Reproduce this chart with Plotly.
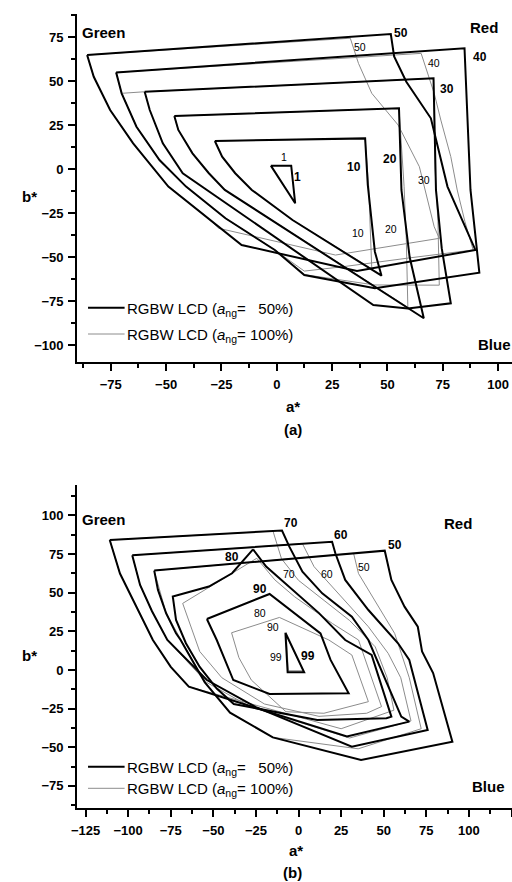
import plotly.graph_objects as go

# ================= panel (a) : a_ng = 50 % (bold) =================
a_A1 = [-2.7, 6.5, 8.3, -2.7]
b_A1 = [1.9, 1.9, -19.5, 1.9]
a_A10 = [-28, 39.9, 41.1, 44.3, 47.3, 7.1, -11.3, -18.8, -24.7, -28]
b_A10 = [15.9, 17.4, -9, -47, -60.6, -29, -11.9, -2.4, 7, 15.9]
a_A20 = [-46.3, 55.2, 56.3, 60, 66.4, -23.5, -30.7, -38.1, -44.5, -46.3]
b_A20 = [30.1, 34.5, -11.9, -50, -84.8, -11.9, -2.4, 8.9, 22.2, 30.1]
a_A30 = [-59.7, 70.8, 71.9, 74.5, 78.6, 59.2, 43.6, -33.5, -42.5, -51.5, -57.4, -59.7]
b_A30 = [43.9, 51.5, -11.9, -45, -76.3, -79.2, -77.3, -10, -2.4, 14.6, 33.5, 43.9]
a_A40 = [-72.6, 84.8, 87.5, 91.5, 44.3, 12.4, -0.9, -23.2, -41, -53, -63.4, -70.1, -72.6]
b_A40 = [54.9, 68.6, -11.9, -58.9, -67.8, -60.2, -46, -28, -10, 5.1, 24, 43, 54.9]
a_A50 = [-85.7, 51.5, 53, 58.5, 69.6, 77.1, 89.7, 36.2, -15.9, -33.6, -49, -64.9, -75.3, -82.7, -85.7]
b_A50 = [64.8, 76.7, 64, 49.6, 28.8, -10, -46, -58, -43.2, -25.2, -10, 14.6, 33.5, 52.4, 64.8]

# ================= panel (a) : a_ng = 100 % (thin) =================
a_T10 = [-28, 39.9, 41.5, 42.5, 42.9, 7.1, -11.3, -18.8, -24.7, -28]
b_T10 = [15.9, 17.4, -10, -40, -56.8, -29, -11.9, -2.4, 7, 15.9]
a_T20 = [-46.3, 55.2, 57.5, 58.5, 59.2, -23.5, -30.7, -38.1, -44.5, -46.3]
b_T20 = [30.1, 34.5, -10, -40, -78.6, -11.9, -2.4, 8.9, 22.2, 30.1]
a_T30 = [-59.7, 70.8, 71.5, 72.8, 73.4, 44.3, 12.4, -0.9, -23.2, -41, -53, -63.4, -70.1, -59.7]
b_T30 = [43.9, 51.5, 0, -30, -66, -65.9, -60, -46, -28, -10, 5.1, 24, 43, 43.9]
a_T40 = [-72.6, 65.2, 71.1, 74.1, 78.6, 81.5, 85, 88.7, 60, 30, 12.4, -0.9, -23.2, -41, -53, -63.4, -70.1, -72.6]
b_T40 = [54.9, 65.7, 43, 27.8, 7, -11.9, -30, -46, -50.5, -55.5, -58, -46, -28, -10, 5.1, 24, 43, 54.9]
a_T50 = [-85.7, 33.2, 36.9, 42.9, 54.8, 64.4, 71.1, 73.4, 26.5, 7.1, -26.2, -33.6, -49, -64.9, -75.3, -82.7, -85.7]
b_T50 = [64.8, 74.3, 60, 43, 25, 1.3, -32.8, -39.4, -48.9, -43.2, -33.7, -25.2, -10, 14.6, 33.5, 52.4, 64.8]

# ================= panel (b) : a_ng = 50 % (bold) =================
a_B99 = [-7.7, -6.4, 3.3, -7.7]
b_B99 = [24.1, -1.5, -1.5, 24.1]
a_B90 = [-53.8, -17, 12.9, 18.8, 29.4, -17, -38.3, -48, -53.8]
b_B90 = [33, 49.2, 23.7, 6.5, -15.1, -15.5, -6.5, 19.4, 33]
a_B80 = [-26.7, -39, -52.6, -73.8, -71.9, -66.1, -58, -48, -38, 11, 51.6, 54.5, 42.9, 27.4, 12, -5.4, -19, -26.7]
b_B80 = [78.1, 62.6, 54, 47.6, 32.4, 17.3, 2, -12, -22, -32.4, -31.2, -30.2, 9.7, 19.4, 36.8, 54, 66.9, 78.1]
a_B70 = [-110.8, -9.7, -5.4, 2.3, 13.9, 31.3, 41, 60.3, 65, 28.4, -64.4, -75, -85.5, -95.1, -104.8, -110.8]
b_B70 = [84.1, 90.2, 79.8, 63.6, 49.6, 34.5, 19.4, -30.2, -33.4, -43, -10.8, 2, 19.4, 40.8, 62.4, 84.1]
a_B60 = [-97.6, 19.7, 21.6, 27.4, 41, 58.4, 65, 75.8, 31.3, -25, -53.8, -77, -86, -93, -97.6]
b_B60 = [74.2, 83, 75.5, 58.3, 38.8, 17.3, 6.5, -38.8, -49.6, -24, -6.5, 19.4, 38, 55, 74.2]
a_B50 = [-84.7, 50.6, 54.5, 62.2, 70, 72.5, 79, 90.3, 36.7, -15.1, -40.2, -55, -69.2, -71.9, -77.7, -82.5, -84.7]
b_B50 = [64.3, 77.2, 58.3, 41, 28, 12, -2, -46.4, -58.3, -43.6, -27.6, -8, 19.4, 23.7, 36.7, 51.8, 64.3]

# ================= panel (b) : a_ng = 100 % (thin) =================
a_U99 = [-7.2, -6.0, 2.8, -7.2]
b_U99 = [22.5, -0.5, -0.5, 22.5]
a_U90 = [-39.3, -11.2, 17.8, 31.3, 41, 14.9, -7.4, -27.7, -35, -39.3]
b_U90 = [24.1, 34, 19.4, 9.7, -20.5, -28, -27, -6.5, 8, 24.1]
a_U80 = [-24.5, -13.9, -2.3, 20, 35.2, 48.7, 40, 12, -20, -45, -58, -64, -68, -24.5]
b_U80 = [72.3, 58.3, 47.4, 30, 19.4, -23.7, -28, -30, -22, -5, 12, 30, 43.1, 72.3]
a_U70 = [-110.8, -15, -10, 0, 15, 30, 45, 52, 56, 25, -64.4, -75, -85.5, -95.1, -104.8, -110.8]
b_U70 = [84.1, 89.9, 72, 58, 45, 32, 15, -5, -26, -38, -10.8, 2, 19.4, 40.8, 62.4, 84.1]
a_U60 = [-97.6, 2.3, 9.1, 21.6, 41, 52.6, 60, 66, 30, -28, -54, -77, -86, -93, -97.6]
b_U60 = [74.2, 81.7, 66.9, 51.8, 28, 10.8, -5, -33, -44, -24, -8, 19.4, 38, 55, 74.2]
a_U50 = [-84.7, 32.3, 35.2, 44.8, 56.4, 60.3, 65, 72, 35, -15.1, -40.2, -55, -69.2, -77.7, -84.7]
b_U50 = [64.3, 75.5, 62.4, 45.2, 23.7, 10.8, -5, -38, -51, -43.6, -27.6, -8, 19.4, 36.7, 64.3]

# ---- text labels ----
labA_bold = ["50", "40", "30", "20", "10", "1"]
labA_bold_a = [56, 92, 77.1, 51, 34.7, 9.4]
labA_bold_b = [77, 63.8, 45.3, 5.5, 1.3, -4.4]
labA_thin = ["50", "40", "30", "20", "10", "1"]
labA_thin_a = [37.5, 71, 66.5, 51.8, 36.9, 3.1]
labA_thin_b = [69.3, 60, -6.3, -34, -36.5, 7]
labB_bold = ["70", "60", "50", "80", "90", "99"]
labB_bold_a = [-4.2, 24.9, 56.7, -39.3, -22.6, 5.4]
labB_bold_b = [95.3, 87.4, 80.9, 73.1, 52.4, 9.1]
labB_thin = ["70", "60", "50", "80", "90", "99"]
labB_thin_a = [-5.8, 17, 38.3, -22.8, -15.1, -13.5]
labB_thin_b = [62.1, 62.1, 66.5, 36.7, 28, 8.6]
corner_names = ["Green", "Red", "Blue"]
cornA_a = [-78.1, 93.75, 98.2]
cornA_b = [77.8, 80.5, -100]
cornB_a = [-114.3, 93.6, 111.5]
cornB_b = [97.5, 94.7, -75.3]

FONT = "Liberation Sans, Arial, sans-serif"
BOLD_W = 2
THIN_W = 1
THIN_C = "#8c8c8c"

fig = go.Figure()


def add_line(a, b, xa, ya, bold):
    fig.add_trace(go.Scatter(
        x=a, y=b, mode="lines", xaxis=xa, yaxis=ya, showlegend=False,
        hoverinfo="skip",
        line=dict(color="black" if bold else THIN_C,
                  width=BOLD_W if bold else THIN_W)))


for a, b in [(a_T10, b_T10), (a_T20, b_T20), (a_T30, b_T30), (a_T40, b_T40), (a_T50, b_T50)]:
    add_line(a, b, "x", "y", False)
for a, b in [(a_A1, b_A1), (a_A10, b_A10), (a_A20, b_A20), (a_A30, b_A30), (a_A40, b_A40), (a_A50, b_A50)]:
    add_line(a, b, "x", "y", True)
for a, b in [(a_U99, b_U99), (a_U90, b_U90), (a_U80, b_U80), (a_U70, b_U70), (a_U60, b_U60), (a_U50, b_U50)]:
    add_line(a, b, "x2", "y2", False)
for a, b in [(a_B99, b_B99), (a_B90, b_B90), (a_B80, b_B80), (a_B70, b_B70), (a_B60, b_B60), (a_B50, b_B50)]:
    add_line(a, b, "x2", "y2", True)

W, H = 512, 882


def px(x):
    return x / W


def py(y):
    return 1 - y / H


axis_common = dict(
    showline=True, linecolor="black", linewidth=2, mirror=False,
    ticks="outside", ticklen=7, tickwidth=2, tickcolor="black",
    ticklabelstandoff=2,
    showgrid=False, zeroline=False,
    tickfont=dict(family=FONT, size=13, color="black", weight="bold"),
    minor=dict(ticks="outside", ticklen=4, tickwidth=2, tickcolor="black", showgrid=False),
)

fig.update_layout(
    width=W, height=H, margin=dict(l=0, r=0, t=0, b=0),
    paper_bgcolor="white", plot_bgcolor="white",
    xaxis=dict(domain=[px(72), 1], range=[-90.2, 106.25], tick0=0, dtick=25,
               anchor="y", **axis_common),
    yaxis=dict(domain=[py(362), py(14)], range=[-109.66, 88.07], tick0=0, dtick=25,
               anchor="x", **axis_common),
    xaxis2=dict(domain=[px(72), 1], range=[-129.93, 125.29], tick0=0, dtick=25,
                anchor="y2", **axis_common),
    yaxis2=dict(domain=[py(808), py(485)], range=[-89.3, 119.7], tick0=0, dtick=25,
                anchor="x2", **axis_common),
)
for ax in ["xaxis", "yaxis", "xaxis2", "yaxis2"]:
    fig.layout[ax].minor.dtick = 12.5

ann = []


def txt(x, y, s, xref, yref, size, bold=False, color="black", xanchor="center"):
    ann.append(dict(x=x, y=y, xref=xref, yref=yref, text=s, showarrow=False,
                    xanchor=xanchor, yanchor="middle",
                    font=dict(family=FONT, size=size, color=color,
                              weight="bold" if bold else "normal")))


for s, a, b in zip(labA_bold, labA_bold_a, labA_bold_b):
    txt(a, b, s, "x", "y", 12, True)
for s, a, b in zip(labA_thin, labA_thin_a, labA_thin_b):
    txt(a, b, s, "x", "y", 10.5)
for s, a, b in zip(labB_bold, labB_bold_a, labB_bold_b):
    txt(a, b, s, "x2", "y2", 12, True)
for s, a, b in zip(labB_thin, labB_thin_a, labB_thin_b):
    txt(a, b, s, "x2", "y2", 10.5)
for s, a, b in zip(corner_names, cornA_a, cornA_b):
    txt(a, b, s, "x", "y", 15, True)
for s, a, b in zip(corner_names, cornB_a, cornB_b):
    txt(a, b, s, "x2", "y2", 15, True)

# axis titles and panel captions
txt(px(290.7), py(406.7), "a*", "paper", "paper", 15, True)
txt(px(290.7), py(430), "(a)", "paper", "paper", 15, True)
txt(px(23.3), py(196.7), "b*", "paper", "paper", 15, True)
txt(px(293), py(850.7), "a*", "paper", "paper", 15, True)
txt(px(290), py(872), "(b)", "paper", "paper", 15, True)
txt(px(23.3), py(655), "b*", "paper", "paper", 15, True)

# legends (drawn manually)
NB = "\u00a0"
leg_bold = "RGBW LCD (<i>a</i><sub>ng</sub>=" + NB * 3 + "50%)"
leg_thin = "RGBW LCD (<i>a</i><sub>ng</sub>= 100%)"
shapes = []
for yb, yt in [(307.7, 334.0), (766.7, 788.3)]:
    shapes.append(dict(type="line", xref="paper", yref="paper", x0=px(83), x1=px(120),
                       y0=py(yb), y1=py(yb), line=dict(color="black", width=2)))
    shapes.append(dict(type="line", xref="paper", yref="paper", x0=px(83), x1=px(120),
                       y0=py(yt), y1=py(yt), line=dict(color=THIN_C, width=1)))
    txt(px(120), py(yb + 1.5), leg_bold, "paper", "paper", 15, False, xanchor="left")
    txt(px(120), py(yt + 1.5), leg_thin, "paper", "paper", 15, False, xanchor="left")

fig.update_layout(annotations=ann, shapes=shapes)
fig.write_html("out.html", config={"displayModeBar": False},
               post_script="document.body.style.margin='0';document.body.style.overflow='hidden';")
